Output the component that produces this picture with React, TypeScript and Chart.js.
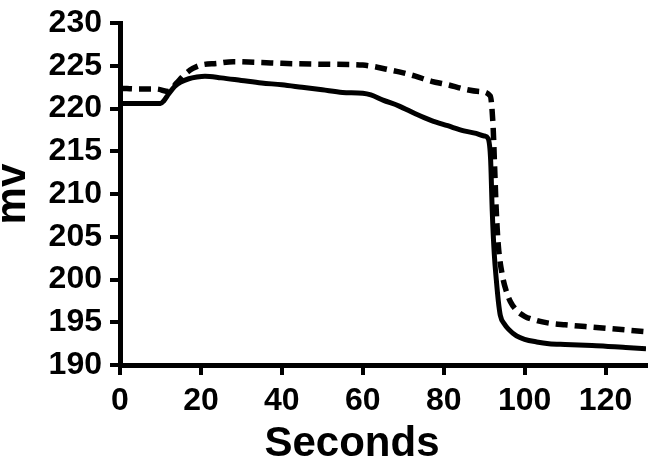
import React, { useEffect, useRef } from "react";
import { Chart, registerables } from "chart.js";

Chart.register(...registerables);

const solidSeconds = [0, 5, 10, 10.8, 12, 13.5, 15, 17, 19, 21, 25, 30, 35, 40, 45, 50, 55, 60, 62, 65, 69, 73, 77, 81, 85, 88, 90, 91, 91.6, 92, 92.5, 93, 93.5, 94, 95, 96, 98, 100, 103, 106, 110, 115, 120, 125, 130];
const solidMv = [220.6, 220.6, 220.6, 220.9, 221.7, 222.6, 223.1, 223.5, 223.7, 223.8, 223.6, 223.3, 223.0, 222.8, 222.5, 222.2, 221.9, 221.8, 221.6, 221.0, 220.3, 219.4, 218.6, 218.0, 217.4, 217.1, 216.8, 216.5, 214, 208, 203, 200, 197.5, 195.8, 194.8, 194.2, 193.4, 193.0, 192.7, 192.5, 192.4, 192.3, 192.2, 192.05, 191.9];

const dashedSeconds = [0, 5, 9, 12, 14, 16, 18, 20, 24, 28, 35, 40, 50, 60, 63, 66, 69, 73, 77, 81, 85, 89, 91.5, 92.2, 92.6, 93, 93.5, 94.5, 95.5, 96.5, 98, 100, 103, 106, 110, 115, 120, 125, 130];
const dashedMv = [222.4, 222.3, 222.3, 222.0, 223.0, 224.0, 224.7, 225.1, 225.3, 225.5, 225.4, 225.3, 225.2, 225.1, 224.9, 224.6, 224.3, 223.8, 223.2, 222.8, 222.3, 222.0, 221.5, 218, 213, 208, 204, 200.5, 198.6, 197.4, 196.4, 195.7, 195.2, 194.9, 194.7, 194.5, 194.3, 194.1, 193.9];

const xTickStep = 20;
const yTickStep = 5;
const xTitle = "Seconds";
const yTitle = "mv";

const FONT = "'Liberation Sans', Arial, Helvetica, sans-serif";

const xTitlePlugin = {
  id: "xTitlePlugin",
  afterDraw(chart: any) {
    const { ctx, chartArea } = chart;
    ctx.save();
    ctx.fillStyle = "#000";
    ctx.font = `bold 42px ${FONT}`;
    ctx.textAlign = "center";
    ctx.textBaseline = "alphabetic";
    const cx = chartArea.left + (chartArea.right - chartArea.left) * 0.441;
    ctx.fillText(xTitle, cx, chart.height - 3);
    ctx.restore();
  },
};

export default function App() {
  const ref = useRef<HTMLCanvasElement | null>(null);

  useEffect(() => {
    const ctx = ref.current;
    if (!ctx) return;
    const chart = new Chart(ctx, {
      type: "line",
      data: {
        datasets: [
          {
            label: "solid",
            data: solidSeconds.map((s, i) => ({ x: s, y: solidMv[i] })),
            borderColor: "#000",
            borderWidth: 5,
            pointRadius: 0,
            cubicInterpolationMode: "monotone",
            fill: false,
          },
          {
            label: "dashed",
            data: dashedSeconds.map((s, i) => ({ x: s, y: dashedMv[i] })),
            borderColor: "#000",
            borderWidth: 5.5,
            borderDash: [12, 7],
            pointRadius: 0,
            cubicInterpolationMode: "monotone",
            fill: false,
          },
        ],
      },
      options: {
        animation: false,
        responsive: false,
        maintainAspectRatio: false,
        layout: { padding: { top: 0, right: 4, bottom: 0, left: 0 } },
        plugins: { legend: { display: false }, tooltip: { enabled: false } },
        scales: {
          x: {
            type: "linear",
            min: 0,
            max: 130,
            afterFit: (scale: any) => {
              scale.height = 94;
            },
            ticks: {
              stepSize: xTickStep,
              includeBounds: false,
              color: "#000",
              font: { family: FONT, size: 32, weight: "bold", lineHeight: 1.0 },
              padding: 10,
              maxRotation: 0,
            },
            grid: { drawOnChartArea: false, drawTicks: true, tickLength: 10, color: "#000", lineWidth: 4 },
            border: { display: true, color: "#000", width: 5 },
            title: { display: false },
          },
          y: {
            type: "linear",
            min: 190,
            max: 230,
            afterFit: (scale: any) => {
              scale.width = 120;
            },
            ticks: {
              stepSize: yTickStep,
              color: "#000",
              font: { family: FONT, size: 32, weight: "bold", lineHeight: 0.95 },
              padding: 8,
            },
            grid: { drawOnChartArea: false, drawTicks: true, tickLength: 10, color: "#000", lineWidth: 4 },
            border: { display: true, color: "#000", width: 5 },
            title: {
              display: true,
              text: yTitle,
              color: "#000",
              font: { family: FONT, size: 42, weight: "bold", lineHeight: 0.52 },
              padding: { top: 3, bottom: 0 },
            },
          },
        },
      },
      plugins: [xTitlePlugin],
    });
    return () => chart.destroy();
  }, []);

  return (
    <div style={{ position: "fixed", left: 0, top: 0, width: 650, height: 459, background: "#fff" }}>
      <canvas ref={ref} width={650} height={459} style={{ width: 650, height: 459, display: "block" }} />
    </div>
  );
}
